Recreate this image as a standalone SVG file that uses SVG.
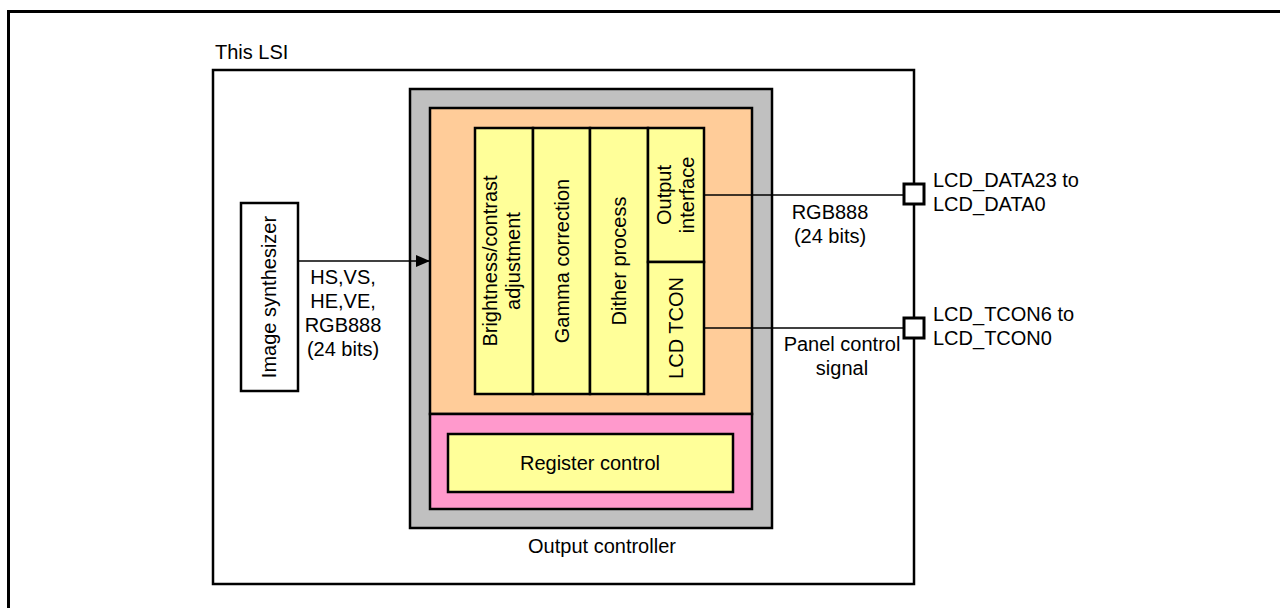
<svg xmlns="http://www.w3.org/2000/svg" width="1280" height="608" viewBox="0 0 1280 608">
<defs>
<style>
.t{font-family:"Liberation Sans",Arial,sans-serif;font-size:20px;fill:#000}
.m{text-anchor:middle}
.box{stroke:#000;stroke-width:2.5}
.col{fill:#FFFF99;stroke:#000;stroke-width:2.5}
.ln{stroke:#000;stroke-width:1.3;fill:none}
</style>
<marker id="arr" viewBox="0 0 14 12" refX="14" refY="6" markerWidth="14" markerHeight="12" markerUnits="userSpaceOnUse" orient="auto">
<path d="M0,0 L14,6 L0,12 Z" fill="#000"/>
</marker>
</defs>
<rect width="1280" height="608" fill="#fff"/>
<g id="frame">
<path d="M8.5,620 V11.5 H1290" fill="none" stroke="#000" stroke-width="3"/>
</g>
<g id="lsi">
<rect x="213" y="70" width="701" height="514" fill="#fff" class="box"/>
<text class="t" x="215" y="59">This LSI</text>
</g>
<g id="output-controller">
<rect x="410" y="89" width="362" height="439" fill="#C0C0C0" class="box"/>
<rect x="430" y="108" width="322" height="306" fill="#FFCC99" class="box"/>
<rect x="430" y="414" width="322" height="95" fill="#FF99CC" class="box"/>
<text class="t m" x="602" y="553">Output controller</text>
</g>
<g id="register-control">
<rect x="448" y="434" width="285" height="58" class="col"/>
<text class="t m" x="590" y="470">Register control</text>
</g>
<g id="brightness">
<rect x="475" y="128" width="58" height="266" class="col"/>
<text class="t m" transform="translate(497,261) rotate(-90)">Brightness/contrast</text>
<text class="t m" transform="translate(520,261) rotate(-90)">adjustment</text>
</g>
<g id="gamma">
<rect x="533" y="128" width="57" height="266" class="col"/>
<text class="t m" transform="translate(569,261) rotate(-90)">Gamma correction</text>
</g>
<g id="dither">
<rect x="590" y="128" width="58" height="266" class="col"/>
<text class="t m" transform="translate(626,261) rotate(-90)">Dither process</text>
</g>
<g id="output-interface">
<rect x="648" y="128" width="56" height="134" class="col"/>
<text class="t m" transform="translate(671,195) rotate(-90)">Output</text>
<text class="t m" transform="translate(694,195) rotate(-90)">interface</text>
</g>
<g id="lcd-tcon">
<rect x="648" y="262" width="56" height="132" class="col"/>
<text class="t m" transform="translate(683,328) rotate(-90)">LCD TCON</text>
</g>
<g id="image-synthesizer">
<rect x="241" y="203" width="57" height="188" fill="#fff" class="box"/>
<text class="t m" transform="translate(276,297) rotate(-90)">Image synthesizer</text>
</g>
<g id="pins">
<rect x="904" y="184" width="20" height="20" fill="#fff" stroke="#000" stroke-width="3"/>
<rect x="904" y="318" width="20" height="20" fill="#fff" stroke="#000" stroke-width="3"/>
<text class="t" x="933" y="187">LCD_DATA23 to</text>
<text class="t" x="933" y="211">LCD_DATA0</text>
<text class="t" x="933" y="321">LCD_TCON6 to</text>
<text class="t" x="933" y="345">LCD_TCON0</text>
</g>
<g id="connectors">
<line class="ln" x1="298" y1="261" x2="430" y2="261" marker-end="url(#arr)"/>
<line class="ln" x1="704" y1="195" x2="904" y2="195"/>
<line class="ln" x1="704" y1="328" x2="904" y2="328"/>
<text class="t m" x="343" y="284">HS,VS,</text>
<text class="t m" x="343" y="308">HE,VE,</text>
<text class="t m" x="343" y="332">RGB888</text>
<text class="t m" x="343" y="356">(24 bits)</text>
<text class="t m" x="830" y="219">RGB888</text>
<text class="t m" x="830" y="243">(24 bits)</text>
<text class="t m" x="842" y="351">Panel control</text>
<text class="t m" x="842" y="375">signal</text>
</g>
</svg>
